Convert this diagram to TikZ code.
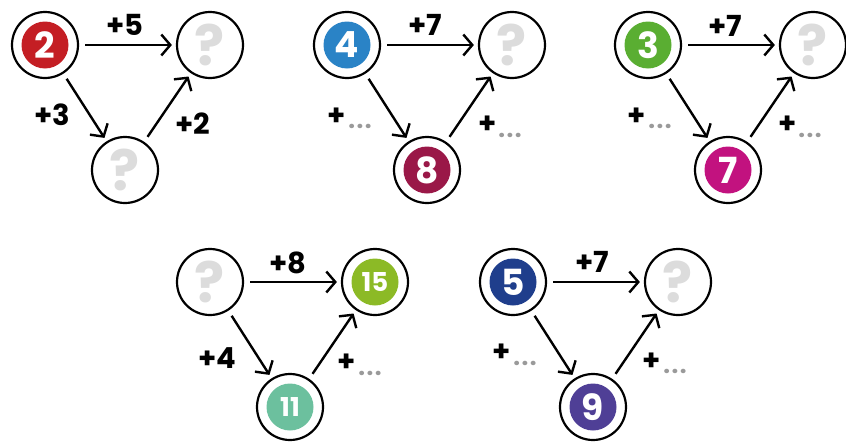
\documentclass[tikz,border=0pt]{standalone}
\usepackage{fontspec}
\setmainfont{Poppins}
\usetikzlibrary{arrows.meta}
\definecolor{cred}{HTML}{C41E24}
\definecolor{cblue}{HTML}{2A83C6}
\definecolor{cmaroon}{HTML}{9A1848}
\definecolor{cgreen}{HTML}{5AAE32}
\definecolor{cmagenta}{HTML}{C2127F}
\definecolor{clime}{HTML}{8CBA26}
\definecolor{cteal}{HTML}{6CC09E}
\definecolor{cnavy}{HTML}{1F3E8C}
\definecolor{cpurple}{HTML}{4F3F96}
\definecolor{qgray}{HTML}{DCDCDC}
\definecolor{dgray}{HTML}{9A9A9A}
\newcommand\gdots{.\kern1.5pt.\kern1.5pt.}
\tikzset{
  ring/.style={circle, draw=black, line width=2.2pt, minimum size=66pt, inner sep=0pt},
  qm/.style={text=qgray, font=\fontsize{56}{56}\selectfont\bfseries},
  val/.style={circle, fill=#1, minimum size=47pt, inner sep=0pt, text=white, font=\fontsize{36}{36}\selectfont\bfseries},
  vals/.style={circle, fill=#1, minimum size=47pt, inner sep=0pt, text=white, font=\fontsize{26}{26}\selectfont\bfseries},
  arr/.style={-{Straight Barb[length=9pt,width=21pt,line width=2.4pt]}, line width=2.4pt, shorten <=6pt, shorten >=4pt},
  lab/.style={font=\fontsize{29}{29}\selectfont\bfseries, inner sep=0pt},
  dotlab/.style={text=dgray, font=\fontsize{24}{24}\selectfont\bfseries, inner sep=0pt}
}
\begin{document}
\begin{tikzpicture}[x=1pt,y=-1pt]
\useasboundingbox (0,0) rectangle (846,442);
% triangle 1
\begin{scope}[shift={(0,0)}]
  \node[ring] (a1) at (45,45) {};
  \node[val=cred] (a1v) at (45,45) {2};
  \node[ring,qm] (b1) at (210,45) {?};
  \node[ring,qm] (c1) at (125,170) {?};
  \draw[arr] (a1) -- (b1);
  \draw[arr] (a1) -- (c1);
  \draw[arr] (c1) -- (b1);
  \node[lab] (l1a) at (125,25) {+5};
  \node[lab] (l1b) at (52,115) {+3};
  \node[lab] (l1c) at (193,124) {+2};
\end{scope}
% triangle 2
\begin{scope}[shift={(302,0)}]
  \node[ring] (a2) at (45,45) {};
  \node[val=cblue] (a2v) at (45,45) {4};
  \node[ring,qm] (b2) at (210,45) {?};
  \node[ring] (c2) at (125,170) {};
  \node[val=cmaroon] (c2v) at (125,170) {8};
  \draw[arr] (a2) -- (b2);
  \draw[arr] (a2) -- (c2);
  \draw[arr] (c2) -- (b2);
  \node[lab] (l2a) at (123,25) {+7};
  \node[lab] (l2b) at (35,117) {+};
  \node[dotlab] (d2b) at (58,126) {\gdots};
  \node[lab] (l2c) at (186,125) {+};
  \node[dotlab] (d2c) at (208,135) {\gdots};
\end{scope}
% triangle 3
\begin{scope}[shift={(603,0)}]
  \node[ring] (a3) at (45,45) {};
  \node[val=cgreen] (a3v) at (45,45) {3};
  \node[ring,qm] (b3) at (210,45) {?};
  \node[ring] (c3) at (125,170) {};
  \node[val=cmagenta] (c3v) at (125,170) {7};
  \draw[arr] (a3) -- (b3);
  \draw[arr] (a3) -- (c3);
  \draw[arr] (c3) -- (b3);
  \node[lab] (l3a) at (122,26) {+7};
  \node[lab] (l3b) at (34,117) {+};
  \node[dotlab] (d3b) at (57,126) {\gdots};
  \node[lab] (l3c) at (185,125) {+};
  \node[dotlab] (d3c) at (207,135) {\gdots};
\end{scope}
% triangle 4
\begin{scope}[shift={(165,237)}]
  \node[ring,qm] (a4) at (45,45) {?};
  \node[ring] (b4) at (210,45) {};
  \node[vals=clime] (b4v) at (210,45) {15};
  \node[ring] (c4) at (125,170) {};
  \node[vals=cteal] (c4v) at (125,170) {11};
  \draw[arr] (a4) -- (b4);
  \draw[arr] (a4) -- (c4);
  \draw[arr] (c4) -- (b4);
  \node[lab] (l4a) at (123,26) {+8};
  \node[lab] (l4b) at (52,121) {+4};
  \node[lab] (l4c) at (182,126) {+};
  \node[dotlab] (d4c) at (205,136) {\gdots};
\end{scope}
% triangle 5
\begin{scope}[shift={(468,237)}]
  \node[ring] (a5) at (45,45) {};
  \node[val=cnavy] (a5v) at (45,45) {5};
  \node[ring,qm] (b5) at (210,45) {?};
  \node[ring] (c5) at (125,170) {};
  \node[val=cpurple] (c5v) at (125,170) {9};
  \draw[arr] (a5) -- (b5);
  \draw[arr] (a5) -- (c5);
  \draw[arr] (c5) -- (b5);
  \node[lab] (l5a) at (124,25) {+7};
  \node[lab] (l5b) at (34,116) {+};
  \node[dotlab] (d5b) at (57,126) {\gdots};
  \node[lab] (l5c) at (184,125) {+};
  \node[dotlab] (d5c) at (207,134) {\gdots};
\end{scope}
\end{tikzpicture}
\end{document}
